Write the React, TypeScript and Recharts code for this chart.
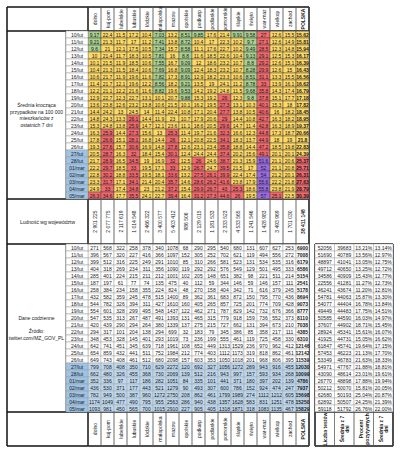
import { ScatterChart, Scatter, XAxis, YAxis, ReferenceLine } from 'recharts'

const dates = ['10/lut', '11/lut', '12/lut', '13/lut', '14/lut', '15/lut', '16/lut', '17/lut', '18/lut', '19/lut', '20/lut', '21/lut', '22/lut', '23/lut', '24/lut', '25/lut', '26/lut', '27/lut', '28/lut', '01/mar', '02/mar', '03/mar', '04/mar', '05/mar']
const regions = ['dolno', 'kuj-pom', 'lubelskie', 'lubuskie', 'łódzkie', 'małopolska', 'mazow', 'opolskie', 'podkarp', 'podlaskie', 'pomorskie', 'śląskie', 'święto', 'war-maz', 'wielkop', 'zachod', 'POLSKA']

// srednia krocząca na 100 tys. (wiersz = data)
const weeklyAvg = [
  [9.17, 22.4, 11.5, 17.2, 10.4, 7.03, 13.2, 8.51, 9.85, 17.6, 21.4, 9.91, 9.58, 27, 12.6, 15.5, 15.62],
  [9.21, 21.3, 11.7, 17, 11.2, 7.41, 13.8, 8.72, 10.4, 17, 22.3, 10.2, 9.7, 27.1, 12.6, 14.9, 15.81],
  [9.6, 21, 12.1, 17.5, 10.5, 7.34, 15.7, 8.58, 11.1, 17.6, 22.7, 10.2, 9.49, 28.5, 12.3, 14.8, 15.94],
  [10, 21.4, 11.7, 18.3, 10.5, 7.81, 16, 8.8, 11.6, 18.5, 22.6, 10.4, 9.13, 29.1, 12.5, 15.3, 16.17],
  [10.1, 21.5, 11.9, 18.5, 10.6, 7.55, 16.7, 9.09, 12, 18.6, 23.2, 10.7, 8.8, 29.2, 12.6, 15.1, 16.39],
  [10.4, 21.3, 11.5, 18.4, 10.6, 7.69, 16.8, 9.09, 12.4, 18.3, 23.2, 10.7, 8.28, 29.9, 12.6, 15, 16.43],
  [10.6, 21.7, 11.9, 19.6, 11.6, 7.82, 17.3, 8.91, 12.9, 18.2, 23.3, 10.6, 8.51, 31.1, 13.3, 15.5, 16.56],
  [11.4, 21.7, 12.1, 19.6, 12.2, 8.56, 18.2, 9.21, 13.5, 19, 24.1, 11.2, 8.78, 33, 13.9, 16.1, 16.62],
  [12.2, 21.1, 12.2, 21.6, 11.6, 8.82, 19.6, 9.53, 14.2, 19.2, 24.8, 11.5, 9.68, 35.8, 14.3, 17.4, 16.79],
  [12.9, 22.7, 12.3, 22.7, 13.1, 10.1, 20.7, 9.88, 15.3, 19.2, 26, 12.3, 9.8, 37.8, 15.1, 17.7, 17.18],
  [13.6, 23.8, 12.6, 23.2, 13.8, 10.6, 21.5, 10.1, 16.2, 19.5, 27.3, 13.1, 10.3, 40.1, 15.3, 18, 17.82],
  [14.4, 24.2, 13, 24.5, 14, 11.4, 22.4, 10.8, 17.1, 20.4, 27.7, 13.8, 10.5, 40.6, 16, 18.2, 18.45],
  [14.8, 24.3, 13.3, 26.1, 14.4, 11.9, 23, 10.7, 17.9, 20.6, 29, 14.4, 10.8, 42.7, 16.3, 18.2, 18.95],
  [15.3, 24.8, 13.8, 25.9, 14.7, 12.1, 23.6, 11.1, 18.6, 20.5, 29.6, 14.7, 11.4, 42.8, 16.3, 18.9, 19.37],
  [16.3, 25.9, 14.4, 27.3, 15.6, 13, 25.3, 11.4, 19.7, 21.6, 32.3, 16.6, 12.3, 44.8, 17.3, 18.7, 20.66],
  [17.8, 26.6, 15.1, 28.1, 16.8, 14.4, 26, 12.1, 20.8, 22.5, 34.1, 18.3, 13.7, 44.9, 18, 19, 21.8],
  [19.3, 27.6, 15.7, 30.6, 16.9, 14.8, 27.8, 12.6, 23.1, 23.4, 35.8, 18.8, 14.4, 47.2, 18.5, 19.8, 22.83],
  [20.5, 28.7, 16.3, 32, 18.4, 15.4, 30.1, 12.4, 24.4, 24.4, 37.4, 20.2, 15.6, 49.1, 20.1, 20.1, 24.39],
  [21.7, 28.9, 16.5, 34.5, 19, 16.9, 32, 12.5, 26, 24.6, 38.7, 21.3, 15.9, 51.6, 21.1, 20.6, 25.37],
  [22.2, 29.7, 18.5, 33, 19.5, 17.1, 33, 12.9, 26.7, 24.7, 39.5, 21.5, 17, 52, 21.1, 20.8, 25.71],
  [22.8, 30.2, 18.8, 33.5, 19.5, 18.1, 33.6, 13.2, 27.5, 26.1, 39.9, 22.4, 17.4, 54, 21.2, 20.1, 26.31],
  [23.3, 31.7, 17.1, 34.1, 21.4, 20.4, 35.7, 14.6, 28.6, 26.2, 41.6, 23.8, 17.9, 55.6, 22.2, 21.8, 27.63],
  [24.9, 33, 17.4, 34.8, 23, 21.2, 37.2, 15.4, 29.9, 26.7, 43, 25.3, 18.6, 55.8, 23.8, 21.9, 28.79],
  [26.3, 34.6, 17.7, 35.5, 24.1, 22.7, 39.4, 16.4, 31.2, 27.3, 44.6, 26, 19.5, 57, 25.1, 22.5, 30.39],
]

const population = [2901225, 2077775, 2117619, 1014548, 2466322, 3400577, 5403412, 986506, 2129015, 1181533, 2333523, 4533565, 1241546, 1428983, 3493969, 1701030, 38411148]

// dane codzienne
const dailyCases = [
  [271, 568, 322, 258, 378, 340, 1078, 68, 290, 295, 540, 680, 131, 607, 627, 253, 6900],
  [396, 567, 320, 227, 416, 366, 1097, 152, 305, 252, 702, 621, 119, 494, 556, 272, 7008],
  [399, 512, 316, 225, 249, 291, 1010, 85, 310, 266, 581, 523, 131, 534, 535, 316, 6179],
  [404, 318, 269, 234, 311, 356, 1090, 119, 292, 292, 576, 549, 129, 501, 495, 333, 6586],
  [285, 401, 224, 215, 211, 212, 1001, 102, 205, 148, 651, 382, 98, 221, 511, 214, 5154],
  [187, 197, 61, 77, 74, 135, 475, 40, 112, 59, 344, 146, 59, 146, 157, 111, 2541],
  [258, 384, 234, 158, 355, 224, 824, 48, 270, 158, 404, 342, 71, 616, 379, 245, 5178],
  [432, 582, 359, 245, 478, 515, 1400, 89, 362, 361, 683, 872, 150, 795, 770, 436, 8694],
  [544, 782, 326, 394, 311, 427, 1610, 160, 405, 265, 857, 725, 201, 774, 709, 428, 9073],
  [554, 601, 328, 299, 495, 548, 1437, 122, 462, 271, 787, 829, 142, 732, 676, 366, 8777],
  [547, 535, 313, 267, 487, 491, 1393, 131, 465, 315, 779, 918, 159, 736, 552, 373, 8110],
  [420, 439, 290, 294, 264, 380, 1339, 137, 275, 215, 727, 662, 131, 394, 673, 210, 7038],
  [294, 317, 101, 204, 138, 294, 699, 32, 183, 79, 345, 386, 85, 358, 217, 111, 4385],
  [348, 453, 328, 145, 401, 293, 1019, 73, 236, 199, 555, 461, 119, 725, 458, 330, 6310],
  [642, 741, 451, 345, 639, 718, 1961, 108, 652, 449, 1313, 1529, 236, 970, 962, 412, 12146],
  [654, 859, 432, 441, 511, 752, 1984, 212, 774, 403, 1112, 1173, 319, 818, 862, 461, 12142],
  [649, 743, 408, 461, 512, 680, 2098, 157, 603, 353, 1050, 1018, 201, 968, 806, 395, 11539],
  [799, 708, 408, 350, 710, 629, 2272, 120, 692, 327, 1056, 1272, 289, 943, 916, 455, 12030],
  [662, 480, 326, 455, 368, 730, 2069, 139, 512, 216, 943, 997, 157, 593, 934, 268, 10099],
  [352, 336, 97, 117, 186, 282, 1051, 84, 335, 101, 441, 371, 180, 397, 202, 139, 4786],
  [436, 530, 371, 177, 443, 521, 1279, 90, 493, 307, 600, 786, 152, 924, 474, 247, 7937],
  [782, 949, 500, 387, 960, 1272, 2750, 208, 862, 461, 1799, 1989, 274, 1112, 1212, 605, 15698],
  [1174, 1049, 477, 490, 795, 955, 2563, 286, 940, 438, 1357, 1628, 583, 831, 1251, 478, 15250],
  [1093, 981, 450, 565, 700, 1015, 2910, 227, 905, 405, 1318, 1871, 318, 1083, 1135, 467, 15829],
]

const tests = [52056, 51690, 48897, 49712, 34586, 22556, 46241, 54781, 54077, 49449, 50585, 37607, 28924, 41925, 61847, 57453, 53349, 54971, 43090, 26770, 50212, 62680, 62892, 59118]
const testsAvg = [39683, 40789, 41041, 40650, 40909, 41281, 43674, 44063, 44404, 44483, 44590, 44902, 45341, 44731, 45741, 46223, 46783, 47767, 48614, 48898, 50070, 50193, 50507, 51792]
const positivePct = [13.21, 13.56, 13.05, 13.25, 15.43, 11.27, 11.2, 15.87, 16.78, 17.75, 16.03, 18.71, 15.61, 15.05, 19.64, 21.13, 21.63, 21.88, 23.01, 17.88, 15.81, 25.04, 24.25, 26.76]
const positiveAvg = [13.14, 12.97, 12.75, 12.72, 12.77, 12.73, 12.81, 13.3, 13.84, 14.51, 14.97, 15.45, 16.07, 16.62, 17.15, 17.7, 18.33, 18.81, 19.61, 19.94, 20.05, 20.87, 21.39, 22.0]
const sideLabels = [['Liczba testów'], ['Średnia z 7', 'dni'], ['Procent', 'pozytywnych'], ['Średnia z 7', 'dni']]

const FONT = '"Liberation Sans", Arial, sans-serif'
const W = 400
const H = 454

// siatka arkusza (piksele)
const X0 = 7
const DATE_X = 66
const DATA_X = 88
const COL_W = 13
const DATA_END = DATA_X + COL_W * regions.length
const SIDE_X = 315
const SIDE_W = 19.5
const SIDE_END = SIDE_X + SIDE_W * 4
const Y0 = 7
const HEAD_END = 31
const ROW_H = 7
const TOP_END = HEAD_END + ROW_H * dates.length
const POP_END = 244
const BOT_END = POP_END + ROW_H * dates.length
const FOOT_END = 446
const BLUE_FROM = dates.indexOf('27/lut')

const heat = (v: number) => (v < 10 ? '#a9d08e' : v < 25 ? '#ffd966' : v < 50 ? '#f4676b' : '#9a6ae6')
const fmtPop = (v: number) => String(v).replace(/\B(?=(\d{3})+(?!\d))/g, ' ')

const colX = (i: number) => DATA_X + COL_W * (i + 0.5)
const sideX = (j: number) => SIDE_X + SIDE_W * (j + 0.5)
const topY = (r: number) => HEAD_END + ROW_H * (r + 0.5)
const botY = (r: number) => POP_END + ROW_H * (r + 0.5)

type Pt = {
  x: number
  y: number
  w: number
  h: number
  lines: string[]
  fill?: string
  stroke?: string
  bold?: boolean
  rotate?: boolean
  size?: number
}

const headerPts: Pt[] = regions.flatMap((name, i) => [
  { x: colX(i), y: (Y0 + HEAD_END) / 2, w: COL_W, h: HEAD_END - Y0, lines: [name], stroke: '#555', rotate: true, bold: name === 'POLSKA' },
  { x: colX(i), y: (BOT_END + FOOT_END) / 2, w: COL_W, h: FOOT_END - BOT_END, lines: [name], stroke: '#555', rotate: true, bold: name === 'POLSKA' },
])

const avgPts: Pt[] = weeklyAvg.flatMap((row, r) =>
  row.map((v, i) => ({ x: colX(i), y: topY(r), w: COL_W, h: ROW_H, lines: [String(v)], fill: heat(v), stroke: '#444', bold: i === regions.length - 1 }))
)

const datePts: Pt[] = dates.flatMap((d, r) => [
  { x: (DATE_X + DATA_X) / 2, y: topY(r), w: DATA_X - DATE_X, h: ROW_H, lines: [d], fill: r >= BLUE_FROM ? '#9dc3e6' : '#fff', stroke: '#9a9a9a' },
  { x: (DATE_X + DATA_X) / 2, y: botY(r), w: DATA_X - DATE_X, h: ROW_H, lines: [d], fill: r >= BLUE_FROM ? '#9dc3e6' : '#fff', stroke: '#9a9a9a' },
])

const popPts: Pt[] = population.map((v, i) => ({
  x: colX(i), y: (TOP_END + POP_END) / 2, w: COL_W, h: POP_END - TOP_END, lines: [fmtPop(v)], stroke: '#555', rotate: true, bold: i === regions.length - 1,
}))

const dailyPts: Pt[] = dailyCases.flatMap((row, r) =>
  row.map((v, i) => ({ x: colX(i), y: botY(r), w: COL_W, h: ROW_H, lines: [String(v)], fill: r >= BLUE_FROM ? '#bdd7ee' : '#fff', stroke: '#a6a6a6', bold: i === regions.length - 1 }))
)

const sidePts: Pt[] = dates.flatMap((_, r) =>
  [String(tests[r]), String(testsAvg[r]), positivePct[r].toFixed(2) + '%', positiveAvg[r].toFixed(2) + '%'].map((t, j) => ({
    x: sideX(j), y: botY(r), w: SIDE_W, h: ROW_H, lines: [t], fill: '#fff', stroke: '#a6a6a6',
  }))
)

const sideHeadPts: Pt[] = sideLabels.map((lines, j) => ({
  x: sideX(j), y: (BOT_END + FOOT_END) / 2, w: SIDE_W, h: FOOT_END - BOT_END, lines, stroke: '#555', rotate: true, bold: true,
}))

const labelPts: Pt[] = [
  { x: (X0 + DATE_X) / 2, y: (HEAD_END + TOP_END) / 2, w: 0, h: 0, lines: ['Średnia krocząca', 'przypadków na 100 000', 'mieszkańców z', 'ostatnich 7 dni'] },
  { x: (X0 + DATA_X) / 2, y: (TOP_END + POP_END) / 2, w: 0, h: 0, lines: ['Ludność wg województw'] },
  { x: (X0 + DATE_X) / 2, y: (POP_END + BOT_END) / 2, w: 0, h: 0, lines: ['Dane codzienne', '', 'Źródło:', 'twitter.com/MZ_GOV_PL'] },
]

const CellShape = (props: any) => {
  const { cx, cy, payload } = props
  const p = payload as Pt
  const size = p.size ?? 5
  const lh = p.rotate ? 5.5 : 6.5
  const n = p.lines.length
  return (
    <g>
      {p.w > 0 && (
        <rect x={cx - p.w / 2} y={cy - p.h / 2} width={p.w} height={p.h} fill={p.fill ?? 'none'} stroke={p.stroke ?? 'none'} strokeWidth={0.5} />
      )}
      <text
        x={cx}
        y={cy}
        textAnchor="middle"
        dominantBaseline="central"
        fontSize={size}
        fontFamily={FONT}
        fontWeight={p.bold ? 700 : 400}
        fill="#1a1a1a"
        transform={p.rotate ? `rotate(-90 ${cx} ${cy})` : undefined}
      >
        {p.lines.map((l, k) => (
          <tspan key={k} x={cx} y={cy + (k - (n - 1) / 2) * lh}>
            {l}
          </tspan>
        ))}
      </text>
    </g>
  )
}

const thick = { stroke: '#111', strokeWidth: 1.5 }
const thin = { stroke: '#333', strokeWidth: 0.8 }

export default function App() {
  return (
    <div style={{ width: W, height: H, background: '#fff' }}>
      <style>{'body{margin:0}'}</style>
      <ScatterChart width={W} height={H} margin={{ top: 0, right: 0, bottom: 0, left: 0 }}>
        <XAxis type="number" dataKey="x" domain={[0, W]} hide />
        <YAxis type="number" dataKey="y" domain={[0, H]} reversed hide />
        <Scatter data={avgPts} shape={CellShape} isAnimationActive={false} />
        <Scatter data={dailyPts} shape={CellShape} isAnimationActive={false} />
        <Scatter data={datePts} shape={CellShape} isAnimationActive={false} />
        <Scatter data={headerPts} shape={CellShape} isAnimationActive={false} />
        <Scatter data={popPts} shape={CellShape} isAnimationActive={false} />
        <Scatter data={sidePts} shape={CellShape} isAnimationActive={false} />
        <Scatter data={sideHeadPts} shape={CellShape} isAnimationActive={false} />
        <Scatter data={labelPts} shape={CellShape} isAnimationActive={false} />

        {[HEAD_END, TOP_END, POP_END, BOT_END].map((y) => (
          <ReferenceLine key={'h' + y} segment={[{ x: X0, y }, { x: DATA_END, y }]} {...thick} />
        ))}
        <ReferenceLine segment={[{ x: DATE_X, y: HEAD_END }, { x: DATE_X, y: TOP_END }]} {...thin} />
        <ReferenceLine segment={[{ x: DATE_X, y: POP_END }, { x: DATE_X, y: BOT_END }]} {...thin} />
        <ReferenceLine segment={[{ x: DATA_X, y: Y0 }, { x: DATA_X, y: FOOT_END }]} {...thick} />
        <ReferenceLine segment={[{ x: X0, y: Y0 }, { x: DATA_END, y: Y0 }]} {...thick} />
        <ReferenceLine segment={[{ x: X0, y: FOOT_END }, { x: DATA_END, y: FOOT_END }]} {...thick} />
        <ReferenceLine segment={[{ x: X0, y: Y0 }, { x: X0, y: FOOT_END }]} {...thick} />
        <ReferenceLine segment={[{ x: DATA_END, y: Y0 }, { x: DATA_END, y: FOOT_END }]} {...thick} />

        <ReferenceLine segment={[{ x: SIDE_X, y: POP_END }, { x: SIDE_END, y: POP_END }]} {...thick} />
        <ReferenceLine segment={[{ x: SIDE_X, y: BOT_END }, { x: SIDE_END, y: BOT_END }]} {...thick} />
        <ReferenceLine segment={[{ x: SIDE_X, y: FOOT_END }, { x: SIDE_END, y: FOOT_END }]} {...thick} />
        <ReferenceLine segment={[{ x: SIDE_X, y: POP_END }, { x: SIDE_X, y: FOOT_END }]} {...thick} />
        <ReferenceLine segment={[{ x: SIDE_END, y: POP_END }, { x: SIDE_END, y: FOOT_END }]} {...thick} />
      </ScatterChart>
    </div>
  )
}
